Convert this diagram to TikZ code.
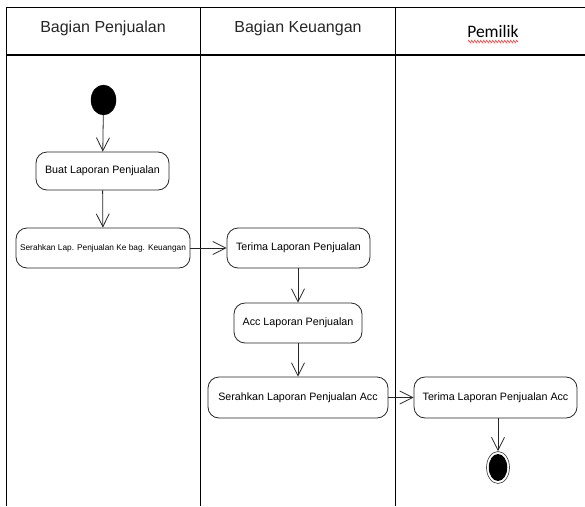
\documentclass[tikz,border=0pt]{standalone}
\usepackage{fontspec}
\setmainfont{Liberation Sans}
\newfontfamily\pemfont{Carlito}
\usetikzlibrary{arrows.meta,decorations.pathmorphing,shapes.geometric}

\begin{document}
\begin{tikzpicture}[x=1pt,y=-1pt,
  lane/.style={line width=1pt, draw=black},
  act/.style={draw=black!85, line width=0.8pt, rounded corners=11pt,
    inner sep=0pt, minimum height=40pt, align=center},
  flow/.style={draw=black!85, line width=0.8pt,
    -{Straight Barb[length=13pt,width=13pt,line width=0.8pt]}},
  hdr/.style={anchor=base, font=\fontsize{16}{18}\selectfont, text=black!85},
  actfont/.style={font=\fontsize{10.7}{12}\selectfont}
]
\useasboundingbox (0,0) rectangle (585,506);

% swimlane frame
\draw[lane] (6,7) -- (585,7);
\draw[lane, line width=1.6pt] (6,55) -- (585,55);
\draw[lane] (6,7) -- (6,506);
\draw[lane] (200,7) -- (200,506);
\draw[lane] (395,7) -- (395,506);

% lane titles
\node[hdr] (h1) at (103,32) {Bagian Penjualan};
\node[hdr] (h2) at (298,32) {Bagian Keuangan};
\node[anchor=base, font=\pemfont\fontsize{17.5}{19}\selectfont, text=black] (h3) at (493,37) {Pemilik};
\draw[red!80, line width=0.6pt, decorate,
  decoration={zigzag, segment length=3pt, amplitude=1.2pt}]
  (468,41.5) -- (518,41.5);

% start node
\node[fill=black, ellipse, minimum width=25pt, minimum height=30pt, inner sep=0pt,
  draw=black] (start) at (103.5,100) {};

% activities
\node[act, actfont, minimum width=133pt, minimum height=38pt] (buat) at (102.5,171) {Buat Laporan Penjualan};
\node[act, font=\fontsize{8.3}{10}\selectfont, minimum width=174pt] (serah) at (103,248) {Serahkan Lap. Penjualan Ke bag. Keuangan};
\node[act, actfont, minimum width=143pt] (terima) at (298.5,248) {Terima Laporan Penjualan};
\node[act, actfont, minimum width=128pt] (acc) at (298,323) {Acc Laporan Penjualan};
\node[act, actfont, minimum width=180pt, minimum height=41pt] (serahacc) at (298,397.5) {Serahkan Laporan Penjualan Acc};
\node[act, actfont, minimum width=163pt, minimum height=41pt] (terimaacc) at (495.5,397.5) {Terima Laporan Penjualan Acc};

% end node
\node[ellipse, draw=black!70, line width=0.7pt, fill=white, minimum width=23pt,
  minimum height=32pt, inner sep=0pt] (end) at (498,467.5) {};
\node[ellipse, fill=black, minimum width=18.5pt, minimum height=27pt, inner sep=0pt] (endin) at (end.center) {};

% flows
\draw[flow] (start) -- (buat);
\draw[flow] (buat) -- (serah);
\draw[flow] (serah) -- (terima);
\draw[flow] (terima.south -| acc.north) -- (acc);
\draw[flow] (acc) -- (serahacc);
\draw[flow] (serahacc) -- (terimaacc);
\draw[flow] (terimaacc.south -| end.north) -- (end);
\end{tikzpicture}
\end{document}
